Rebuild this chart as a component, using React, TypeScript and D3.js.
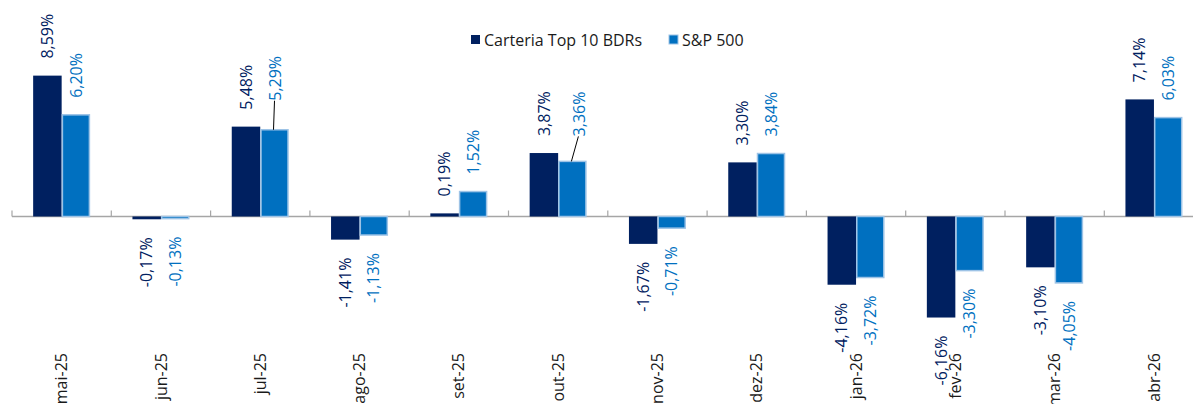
import { scaleBand, scaleLinear } from "d3";

const categories = [
  "mai-25", "jun-25", "jul-25", "ago-25", "set-25", "out-25",
  "nov-25", "dez-25", "jan-26", "fev-26", "mar-26", "abr-26",
];
const carteira = [8.59, -0.17, 5.48, -1.41, 0.19, 3.87, -1.67, 3.3, -4.16, -6.16, -3.1, 7.14];
const sp500 = [6.2, -0.13, 5.29, -1.13, 1.52, 3.36, -0.71, 3.84, -3.72, -3.3, -4.05, 6.03];
const seriesNames = ["Carteria Top 10 BDRs", "S&P 500"];

const width = 1193;
const height = 404;
const font = "'Open Sans', sans-serif";
const colors = { dark: "#002060", light: "#0070C0", lightStroke: "#9DC3E6" };
const zeroY = 216.5;
const pxPerPct = 16.4;

// labels that Excel moved by hand, with a leader line
const nudges: Record<string, { dx: number; dy: number }> = {
  "sp-jul-25": { dx: 1, dy: -12 },
  "sp-out-25": { dx: 7, dy: -8 },
};

const fmt = (v: number) => v.toFixed(2).replace(".", ",") + "%";

export default function App() {
  const x0 = scaleBand<string>().domain(categories).range([12, 12 + 12 * 99.3]).padding(0);
  const x1 = scaleBand<string>()
    .domain(["c", "s"])
    .range([0, x0.bandwidth()])
    .paddingInner(0)
    .paddingOuter(0.742);
  const y = scaleLinear()
    .domain([-8, 10])
    .range([zeroY + 8 * pxPerPct, zeroY - 10 * pxPerPct]);

  const bars = categories.flatMap((cat, i) => [
    { key: "c-" + cat, cat, s: "c", v: carteira[i], fill: colors.dark, stroke: "none", labelColor: colors.dark },
    { key: "sp-" + cat, cat, s: "s", v: sp500[i], fill: colors.light, stroke: colors.lightStroke, labelColor: colors.light },
  ]);

  return (
    <svg
      width={width}
      height={height}
      style={{ position: "fixed", left: 0, top: 0, background: "#fff" }}
      fontFamily={font}
    >
      {/* axis */}
      <line x1={x0.range()[0]} x2={x0.range()[1]} y1={y(0)} y2={y(0)} stroke="#A6A6A6" strokeWidth={1.5} />
      {categories.map((c) => (
        <line key={c} x1={x0(c)!} x2={x0(c)!} y1={y(0) - 6} y2={y(0)} stroke="#A6A6A6" strokeWidth={1.2} />
      ))}

      {bars.map((b) => {
        const bx = x0(b.cat)! + x1(b.s)!;
        const top = Math.min(y(b.v), y(0));
        const h = Math.abs(y(b.v) - y(0));
        return (
          <rect
            key={b.key}
            x={bx + (b.stroke === "none" ? 0 : 0.75)}
            y={top}
            width={x1.bandwidth() - (b.stroke === "none" ? 0 : 1.5)}
            height={h}
            fill={b.fill}
            stroke={b.stroke}
            strokeWidth={1.5}
          />
        );
      })}

      {bars.map((b) => {
        const cx = x0(b.cat)! + x1(b.s)! + x1.bandwidth() / 2;
        const n = nudges[b.key] || { dx: 0, dy: 0 };
        const pos = b.v >= 0;
        const ly = pos ? y(b.v) - 17 + n.dy : y(b.v) + 18 + n.dy;
        const lx = cx + n.dx;
        return (
          <g key={"l" + b.key}>
            {nudges[b.key] && (
              <line x1={lx - 1} y1={ly} x2={cx - 1} y2={y(b.v)} stroke="#000" strokeWidth={1} />
            )}
            <text
              transform={`translate(${lx},${ly}) rotate(-90)`}
              dy="0.35em"
              textAnchor={pos ? "start" : "end"}
              fontSize={16}
              fill={b.labelColor}
            >
              {fmt(b.v)}
            </text>
          </g>
        );
      })}

      {categories.map((c) => (
        <text
          key={"t" + c}
          transform={`translate(${x0(c)! + x0.bandwidth() / 2},353) rotate(-90)`}
          dy="0.35em"
          textAnchor="end"
          fontSize={16}
          fill="#1a1a1a"
        >
          {c}
        </text>
      ))}

      {/* legend */}
      <g>
        <rect x={471} y={35} width={9} height={9} fill={colors.dark} />
        <text x={484} y={45.5} fontSize={16} fill="#1a1a1a">{seriesNames[0]}</text>
        <rect x={669} y={35} width={9} height={9} fill={colors.light} stroke={colors.lightStroke} strokeWidth={1} />
        <text x={682} y={45.5} fontSize={16} fill="#1a1a1a">{seriesNames[1]}</text>
      </g>
    </svg>
  );
}
